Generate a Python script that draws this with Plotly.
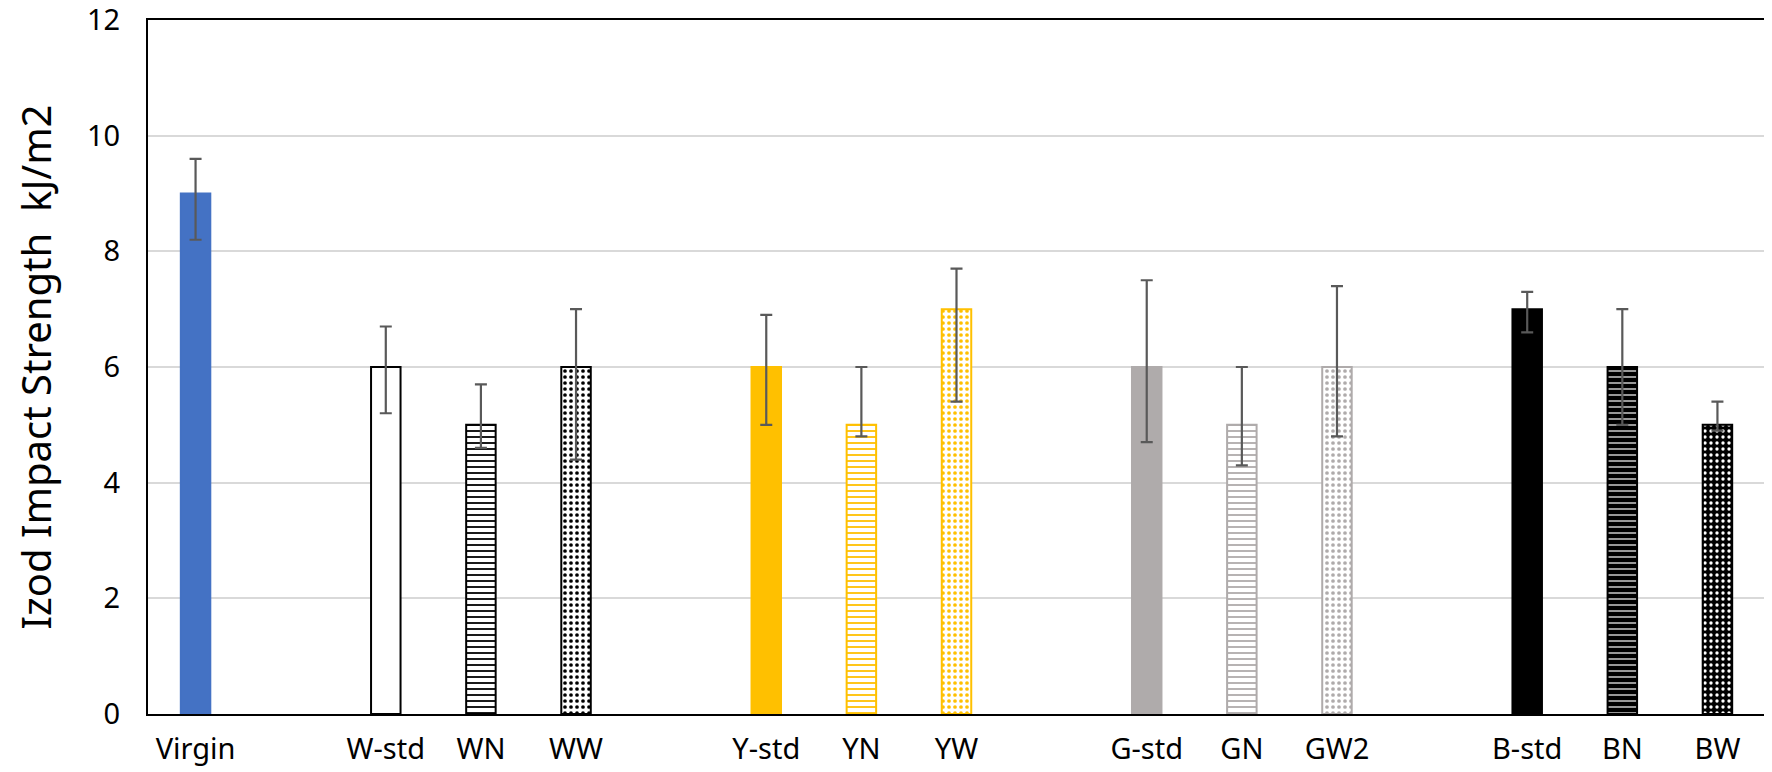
import plotly.graph_objects as go

# ---- data ----
groups = [
    ["Virgin"],
    ["W-std", "WN", "WW"],
    ["Y-std", "YN", "YW"],
    ["G-std", "GN", "GW2"],
    ["B-std", "BN", "BW"],
]
values = [9, 6, 5, 6, 6, 5, 7, 6, 5, 6, 7, 6, 5]
err_plus = [0.6, 0.7, 0.7, 1.0, 0.9, 1.0, 0.7, 1.5, 1.0, 1.4, 0.3, 1.0, 0.4]
err_minus = [0.8, 0.8, 0.4, 1.6, 1.0, 0.2, 1.6, 1.3, 0.7, 1.2, 0.4, 1.0, 0.1]

y_ticks = [0, 2, 4, 6, 8, 10, 12]
y_title = "Izod Impact Strength  kJ/m2"

# ---- styles ----
BLUE, YEL, GRAY, BLK, WHT = "#4472C4", "#FFC000", "#AFABAB", "#000000", "#FFFFFF"
style = {
    "Virgin": (BLUE, "", BLUE, BLUE, 0),
    "W-std": (WHT, "", WHT, BLK, 0),
    "WN": (WHT, "-", BLK, BLK, 0.3),
    "WW": (WHT, ".", BLK, BLK, 0.3),
    "Y-std": (YEL, "", YEL, YEL, 0),
    "YN": (WHT, "-", YEL, YEL, 0.3),
    "YW": (WHT, ".", YEL, YEL, 0.3),
    "G-std": (GRAY, "", GRAY, GRAY, 0),
    "GN": (WHT, "-", GRAY, GRAY, 0.3),
    "GW2": (WHT, ".", GRAY, GRAY, 0.3),
    "B-std": (BLK, "", BLK, BLK, 0),
    "BN": (BLK, "-", WHT, BLK, 0.2),
    "BW": (BLK, ".", WHT, BLK, 0.25),
}

# slot positions: one empty slot between groups
names, xs = [], []
slot = 0
for gi, g in enumerate(groups):
    if gi > 0:
        slot += 1
    for n in g:
        names.append(n)
        xs.append(slot)
        slot += 1
n_slots = slot

fig = go.Figure()
for i, n in enumerate(names):
    bg, shp, fg, lc, sol = style[n]
    pattern = dict(shape=shp, fgcolor=fg, bgcolor=bg, size=6,
                   solidity=sol, fillmode="replace") if shp else dict(shape="")
    fig.add_trace(go.Bar(
        x=[xs[i]], y=[values[i]], width=0.31, name=n,
        marker=dict(color=bg, line=dict(color=lc, width=2), pattern=pattern),
        error_y=dict(type="data", symmetric=False, array=[err_plus[i]],
                     arrayminus=[err_minus[i]], color="#595959",
                     thickness=2.2, width=6),
        showlegend=False,
    ))

font = "Noto Sans"
# the page body adds an 8px offset; the figure size compensates for it
fig.update_layout(
    width=1764, height=764,
    barmode="overlay",
    margin=dict(l=140, r=7, t=12, b=58),
    paper_bgcolor="white", plot_bgcolor="white",
    font=dict(family=font, color="#000000", size=28),
    xaxis=dict(
        range=[-0.5, n_slots - 0.5],
        tickmode="array", tickvals=xs, ticktext=names,
        showgrid=False, zeroline=False, automargin=False,
        showline=True, linecolor="black", linewidth=2, mirror=True,
        ticks="", ticklabelstandoff=8,
        tickfont=dict(size=29, family=font),
    ),
    yaxis=dict(
        range=[0, 12], tickmode="array", tickvals=y_ticks,
        showgrid=True, gridcolor="#D9D9D9", gridwidth=1.5,
        zeroline=False, automargin=False, ticklabeloverflow="allow",
        showline=True, linecolor="black", linewidth=2, mirror=True,
        ticks="", ticklabelstandoff=20,
        tickfont=dict(size=29, family=font),
        title=dict(text=y_title, font=dict(size=40, family=font), standoff=26),
    ),
)

fig.write_html("out.html")
